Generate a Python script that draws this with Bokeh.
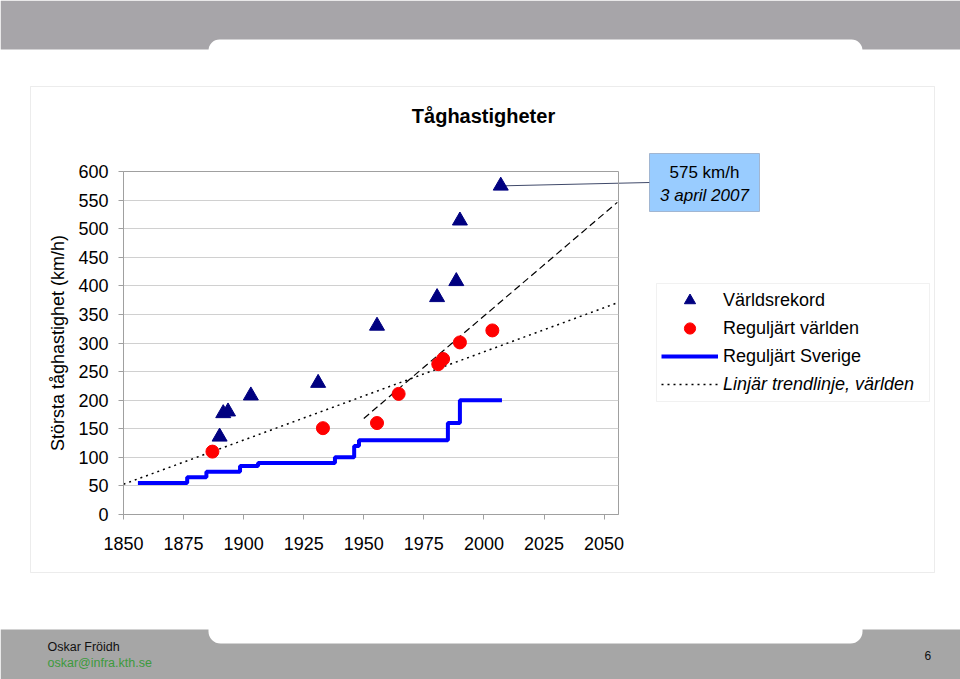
from bokeh.plotting import figure
from bokeh.layouts import column
from bokeh.models import (Range1d, FixedTicker, Label, BoxAnnotation,
                          Legend, LegendItem)
from bokeh.embed import file_html
from bokeh.resources import INLINE

FONT = "Liberation Sans"
W, H = 960, 679

# ---------------- data ----------------
record_years = [1890, 1891.5, 1893.5, 1903, 1931, 1955.5, 1980.5, 1988.5, 1990, 2007]
record_speeds = [136, 177, 180, 208, 230, 330, 380, 408, 514, 575]

world_years = [1887, 1933, 1955.5, 1964.5, 1981, 1983, 1990, 2003.5]
world_speeds = [110, 151, 160, 211, 263, 272, 301, 322]

sweden_years = [1856, 1876.5, 1884.5, 1898.5, 1906, 1938, 1946, 1948, 1985, 1990, 2007.5]
sweden_speeds = [55, 65, 75, 85, 90, 100, 120, 130, 160, 200, 200]

trend_years = [1850, 2056]
trend_speeds = [53, 371]

trend2_years = [1950, 2055.5]
trend2_speeds = [168, 546]

x_ticks = [1850, 1875, 1900, 1925, 1950, 1975, 2000, 2025, 2050]
y_ticks = [0, 50, 100, 150, 200, 250, 300, 350, 400, 450, 500, 550, 600]

title_text = "Tåghastigheter"
y_label = "Största tåghastighet (km/h)"
callout_lines = ["575 km/h", "3 april 2007"]
legend_labels = ["Världsrekord", "Reguljärt världen", "Reguljärt Sverige",
                 "Linjär trendlinje, världen"]

# plot-area placement (pixels)
FL, FR, FT, FB = 123, 618, 171, 514
XMIN, XMAX, YMIN, YMAX = 1850, 2056, 0, 600


def px_x(v):
    return FL + (v - XMIN) * (FR - FL) / (XMAX - XMIN)


def px_y(v):
    return FB - (v - YMIN) * (FB - FT) / (YMAX - YMIN)


def Y(py):  # pixel row -> background data y
    return H - py


# ---------------- background (slide, frames, texts) ----------------
bg = figure(width=W, height=H, x_range=Range1d(0, W), y_range=Range1d(0, H),
            output_backend="svg", toolbar_location=None,
            x_axis_type=None, y_axis_type=None,
            min_border=0, min_border_left=0, min_border_right=0,
            min_border_top=0, min_border_bottom=0,
            outline_line_color=None, background_fill_color="white",
            border_fill_color="white", frame_align=False)
bg.grid.visible = False


def box(fig, l, r, t, b, **kw):
    fig.add_layout(BoxAnnotation(left=l, right=r, top=Y(t), bottom=Y(b), **kw))


box(bg, 0, W, 0, 49, fill_color="#a7a5a9", fill_alpha=1, line_alpha=0)
box(bg, 208, 862, 39, 70, fill_color="white", fill_alpha=1, line_alpha=0,
    border_radius=11)
box(bg, 0, W, 629, H, fill_color="#a6a6a6", fill_alpha=1, line_alpha=0)
box(bg, 208, 862, 600, 643, fill_color="white", fill_alpha=1, line_alpha=0,
    border_radius=12)
box(bg, 30, 934, 86, 572, fill_alpha=0, line_color="#c0c0c0", line_width=1)

bg.add_layout(Label(x=483, y=Y(115), text=title_text, text_font=FONT,
                    text_font_size="20px", text_font_style="bold",
                    text_align="center", text_baseline="middle",
                    text_color="black"))

# callout connector + box
bg.line([px_x(record_years[-1]) + 4, 649], [Y(px_y(record_speeds[-1])), Y(182)],
        line_color="#404a6a", line_width=1)
box(bg, 649, 759, 153, 211, fill_color="#99ccff", fill_alpha=1,
    line_color="#404a6a", line_width=1)
bg.add_layout(Label(x=704, y=Y(172), text=callout_lines[0], text_font=FONT,
                    text_font_size="17px", text_align="center",
                    text_baseline="middle", text_color="black"))
bg.add_layout(Label(x=704, y=Y(195), text=callout_lines[1], text_font=FONT,
                    text_font_size="17px", text_font_style="italic",
                    text_align="center", text_baseline="middle",
                    text_color="black"))

# legend (proxy renderers, parked off-canvas, carry the series styles)
box(bg, 656, 929, 283, 401, fill_color="white", fill_alpha=1,
    line_color="#d0d0d0", line_width=1)
OFF = [-500, -400]
lg_rec = bg.scatter(OFF[:1], OFF[:1], marker="triangle", size=15,
                    fill_color="#000080", line_color="#000080")
lg_world = bg.scatter(OFF[:1], OFF[:1], marker="circle", size=13,
                      fill_color="#ff0000", line_color="#ff0000")
lg_swe = bg.line(OFF, OFF, line_color="#0000ff", line_width=4)
lg_trend = bg.line(OFF, OFF, line_color="black", line_width=1.5, line_dash="2 4")
common = dict(glyph_width=57, glyph_height=28, label_height=28, spacing=0,
              padding=0, margin=0, label_standoff=5,
              label_text_font=FONT, label_text_font_size="18px",
              label_text_color="black", border_line_alpha=0,
              background_fill_alpha=0)
leg1 = Legend(items=[LegendItem(label=legend_labels[0], renderers=[lg_rec]),
                     LegendItem(label=legend_labels[1], renderers=[lg_world]),
                     LegendItem(label=legend_labels[2], renderers=[lg_swe])],
              location=(661, Y(370)), **common)
leg2 = Legend(items=[LegendItem(label=legend_labels[3], renderers=[lg_trend])],
              location=(661, Y(398)), label_text_font_style="italic", **common)
bg.add_layout(leg1)
bg.add_layout(leg2)

# footer
bg.add_layout(Label(x=47, y=Y(646), text="Oskar Fröidh", text_font=FONT,
                    text_font_size="12.5px", text_baseline="middle",
                    text_color="#111111"))
bg.add_layout(Label(x=47, y=Y(662), text="oskar@infra.kth.se", text_font=FONT,
                    text_font_size="12.5px", text_baseline="middle",
                    text_color="#3d9a3d"))
bg.add_layout(Label(x=924, y=Y(655), text="6", text_font=FONT,
                    text_font_size="12px", text_baseline="middle",
                    text_color="#111111"))

# ---------------- chart (overlaid, transparent) ----------------
p = figure(width=W, height=H,
           x_range=Range1d(XMIN, XMAX), y_range=Range1d(YMIN, YMAX),
           output_backend="svg", toolbar_location=None,
           min_border_left=FL, min_border_right=W - FR,
           min_border_top=FT, min_border_bottom=H - FB,
           background_fill_alpha=0, border_fill_alpha=0,
           outline_line_color="#a0a0a0", margin=(-H, 0, 0, 0),
           frame_align=False)

p.xaxis.ticker = FixedTicker(ticks=x_ticks)
p.yaxis.ticker = FixedTicker(ticks=y_ticks)
for ax in (p.xaxis[0], p.yaxis[0]):
    ax.major_label_text_font = FONT
    ax.major_label_text_font_size = "18px"
    ax.major_label_text_color = "black"
    ax.axis_line_color = "#a0a0a0"
    ax.major_tick_line_color = "#a0a0a0"
    ax.major_tick_out = 5
    ax.major_tick_in = 0
    ax.minor_tick_line_color = None
p.xaxis.major_label_standoff = 17
p.yaxis.major_label_standoff = 10
p.yaxis.axis_label = y_label
p.yaxis.axis_label_text_font = FONT
p.yaxis.axis_label_text_font_size = "18px"
p.yaxis.axis_label_text_font_style = "normal"
p.yaxis.axis_label_text_color = "black"
p.yaxis.axis_label_standoff = 7

p.xgrid.visible = False
p.ygrid.ticker = FixedTicker(ticks=y_ticks)
p.ygrid.grid_line_color = "#d0d0d0"

p.line(trend_years, trend_speeds, line_color="black", line_width=1.5,
       line_dash="2 4")
p.line(trend2_years, trend2_speeds, line_color="black", line_width=1.2,
       line_dash="7 4")
p.step(sweden_years, sweden_speeds, mode="after", line_color="#0000ff",
       line_width=4)
p.scatter(world_years, world_speeds, marker="circle", size=13,
          fill_color="#ff0000", line_color="#ff0000")
p.scatter(record_years, record_speeds, marker="triangle", size=15,
          fill_color="#000080", line_color="#000080")

layout = column(bg, p, spacing=0)
open("out.html", "w").write(file_html(layout, INLINE))
